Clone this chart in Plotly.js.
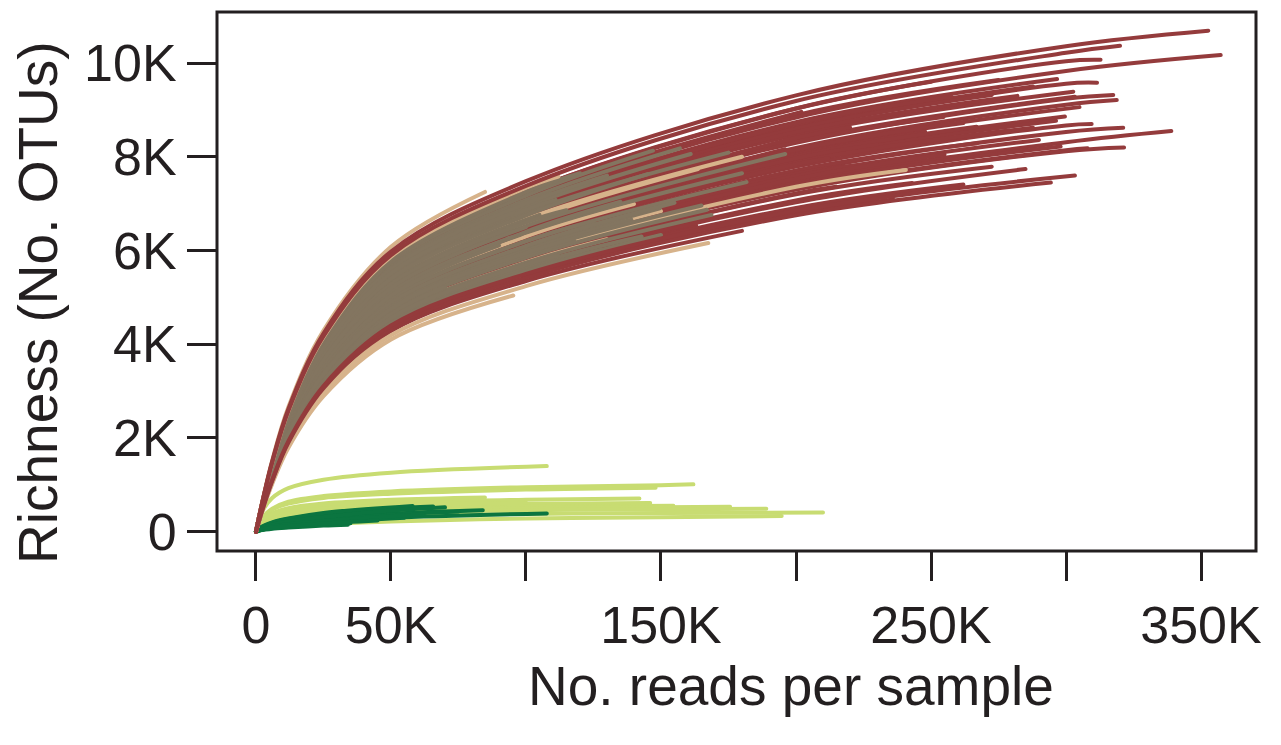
<!DOCTYPE html>
<html><head><meta charset="utf-8">
<script src="https://cdn.plot.ly/plotly-3.0.1.min.js"></script>
<style>html,body{margin:0;padding:0;background:#fff;}#chart{width:1281px;height:745px;}</style>
</head><body><div id="chart"></div>
<script>
const gridReadsK = [0, 1, 3, 6, 12, 25, 50, 100, 200, 300];
const greenGridReadsK = [0, 1, 3, 6, 12, 25, 50, 100, 150];

// tick labels
const xTickVals = [0, 50, 100, 150, 200, 250, 300, 350];
const xTickText = ['0', '50K', '', '150K', '', '250K', '', '350K'];
const yTickVals = [0, 2, 4, 6, 8, 10];
const yTickText = ['0', '2K', '4K', '6K', '8K', '10K'];

// dark red samples (richness in thousands of OTUs); the last ones are drawn above the grey-brown group
const redEndReadsK = [312.8, 311.5, 296.7, 287.8, 302.7, 303.3, 317.5, 318.8, 299.6, 296.3, 309.5, 321.2, 287.8, 279, 308, 321.5,
  243, 247.8, 254.6, 267, 257.6, 262, 275, 272.5, 266.9, 202, 225, 185, 196, 212, 232, 220, 163, 205, 190, 236, 262, 180,
  357.3, 272.5, 176, 339, 124, 142, 285, 298, 290, 305, 282, 250, 255, 230, 215,
  352.7, 320, 294.4, 303.3];
const redEndRichK = [10.07, 9.58, 9.66, 9.50, 9.39, 9.28, 9.32, 9.21, 8.86, 8.77, 8.70, 8.62, 8.62, 8.56, 8.18, 8.20,
  7.44, 8.54, 8.85, 8.29, 9.28, 8.72, 9.64, 9.32, 8.64, 8.96, 7.83, 8.29, 8.16, 7.97, 9.07, 8.63, 6.54, 7.46, 7.90, 7.09, 7.41, 6.42,
  10.17, 7.79, 7.14, 8.55, 7.35, 6.88, 7.74, 8.22, 8.36, 9.06, 9.30, 9.60, 8.05, 8.26, 7.36,
  10.69, 10.37, 7.45, 7.60];
const redRichK = [
  [0,.28,.78,1.45,2.54,4.10,5.80,7.25,9.03,10.04],
  [0,.26,.74,1.38,2.42,3.90,5.52,6.90,8.59,9.56],
  [0,.27,.75,1.40,2.46,3.97,5.62,7.02,8.74],
  [0,.26,.74,1.39,2.43,3.93,5.56,6.95,8.65],
  [0,.26,.73,1.36,2.38,3.84,5.44,6.80,8.47],
  [0,.25,.72,1.34,2.35,3.79,5.36,6.70,8.34],
  [0,.25,.71,1.33,2.33,3.77,5.34,6.67,8.30,9.24],
  [0,.25,.70,1.32,2.30,3.72,5.26,6.58,8.19,9.11],
  [0,.24,.69,1.28,2.25,3.63,5.14,6.42,7.99],
  [0,.24,.68,1.27,2.23,3.60,5.10,6.37,7.93],
  [0,.24,.67,1.25,2.19,3.54,5.01,6.26,7.79,8.67],
  [0,.23,.66,1.23,2.16,3.48,4.93,6.16,7.67,8.53],
  [0,.24,.68,1.26,2.21,3.57,5.05,6.31,7.86],
  [0,.24,.68,1.27,2.22,3.58,5.06,6.33,7.88],
  [0,.22,.63,1.18,2.06,3.32,4.70,5.88,7.32,8.14],
  [0,.22,.63,1.17,2.05,3.31,4.69,5.86,7.30,8.12],
  [0,.22,.61,1.14,1.99,3.21,4.54,5.68,7.07],
  [0,.25,.69,1.30,2.27,3.66,5.18,6.48,8.07],
  [0,.25,.71,1.34,2.34,3.77,5.34,6.68,8.32],
  [0,.24,.66,1.24,2.17,3.50,4.95,6.19,7.71],
  [0,.27,.75,1.40,2.44,3.94,5.58,6.98,8.69],
  [0,.25,.70,1.31,2.29,3.69,5.22,6.53,8.13],
  [0,.27,.76,1.43,2.50,4.03,5.71,7.14,8.89],
  [0,.26,.74,1.38,2.42,3.90,5.53,6.91,8.60],
  [0,.24,.69,1.29,2.25,3.63,5.14,6.43,8.01],
  [0,.27,.77,1.44,2.52,4.07,5.76,7.20],
  [0,.23,.66,1.23,2.15,3.47,4.91,6.14,7.64],
  [0,.26,.73,1.37,2.40,3.87,5.48,6.85],
  [0,.25,.71,1.32,2.31,3.73,5.28,6.60],
  [0,.24,.67,1.26,2.21,3.56,5.04,6.30,7.84],
  [0,.27,.75,1.40,2.45,3.96,5.60,7.00,8.72],
  [0,.26,.72,1.35,2.36,3.81,5.40,6.75,8.40],
  [0,.21,.60,1.12,1.96,3.16,4.48,5.60],
  [0,.23,.64,1.19,2.08,3.36,4.76,5.95],
  [0,.25,.69,1.29,2.26,3.64,5.16,6.45],
  [0,.21,.58,1.09,1.91,3.08,4.36,5.45,6.79],
  [0,.21,.59,1.11,1.94,3.14,4.44,5.55,6.91],
  [0,.20,.57,1.07,1.87,3.02,4.28,5.35],
  [0,.27,.76,1.42,2.49,4.01,5.68,7.10,8.84,9.83],
  [0,.22,.62,1.16,2.02,3.27,4.62,5.78,7.20],
  [0,.23,.64,1.20,2.10,3.39,4.80,6.00],
  [0,.23,.64,1.20,2.10,3.39,4.80,6.00,7.47,8.31],
  [0,.26,.74,1.38,2.42,3.90,5.52,6.90],
  [0,.24,.66,1.24,2.17,3.50,4.96,6.20],
  [0,.21,.60,1.13,1.98,3.19,4.52,5.65,7.03],
  [0,.23,.64,1.19,2.08,3.36,4.76,5.95,7.41],
  [0,.23,.65,1.22,2.14,3.45,4.88,6.10,7.59],
  [0,.25,.70,1.31,2.29,3.70,5.24,6.55,8.15],
  [0,.26,.73,1.37,2.40,3.87,5.48,6.85,8.53],
  [0,.28,.78,1.45,2.54,4.10,5.80,7.25,9.03],
  [0,.23,.65,1.21,2.12,3.42,4.84,6.05,7.53],
  [0,.24,.68,1.28,2.24,3.62,5.12,6.40,7.97],
  [0,.22,.62,1.16,2.03,3.28,4.64,5.80,7.22],
  [0,.28,.80,1.50,2.62,4.23,5.98,7.48,9.31,10.36],
  [0,.28,.79,1.48,2.58,4.17,5.90,7.38,9.19,10.22],
  [0,.21,.58,1.08,1.90,3.06,4.34,5.42,6.75],
  [0,.21,.59,1.10,1.93,3.11,4.40,5.50,6.85]
];
const redDrawnLast = 4;

// grey-brown samples
const greyEndReadsK = [196, 175, 161, 157, 147, 180, 181.7, 167, 168.7, 149, 109, 111, 105, 125, 118, 135, 128, 149.6, 139, 97.8,
  142.8, 80, 60, 90, 70, 115, 130, 112, 100, 155, 120, 150, 145, 105, 95, 165];
const greyEndRichK = [8.06, 8.09, 8.06, 8.18, 8.13, 7.65, 7.46, 6.87, 6.76, 6.30, 7.22, 7.08, 6.76, 6.62, 6.20, 7.04, 6.02, 6.90, 6.66, 5.46,
  6.30, 6.77, 5.81, 6.11, 5.22, 6.86, 7.60, 5.89, 6.50, 7.02, 7.65, 6.33, 7.63, 6.09, 6.80, 6.96];
const greyRichK = [
  [0,.25,.70,1.30,2.28,3.68,5.22,6.52],
  [0,.26,.73,1.36,2.38,3.85,5.45,6.81],
  [0,.26,.74,1.39,2.43,3.92,5.54,6.93],
  [0,.27,.76,1.42,2.48,4.00,5.66,7.08],
  [0,.27,.77,1.43,2.51,4.05,5.74,7.17],
  [0,.24,.68,1.28,2.23,3.60,5.10,6.38],
  [0,.24,.66,1.24,2.17,3.50,4.96,6.20],
  [0,.22,.63,1.17,2.05,3.31,4.68,5.85],
  [0,.22,.61,1.15,2.01,3.24,4.59,5.74],
  [0,.21,.59,1.11,1.94,3.13,4.43,5.54],
  [0,.27,.75,1.41,2.46,3.98,5.63,7.04],
  [0,.26,.74,1.37,2.40,3.88,5.50,6.87],
  [0,.25,.71,1.33,2.33,3.76,5.33],
  [0,.24,.66,1.24,2.17,3.50,4.96,6.20],
  [0,.22,.63,1.18,2.07,3.33,4.72,5.90],
  [0,.24,.68,1.28,2.24,3.62,5.12,6.40],
  [0,.21,.60,1.12,1.96,3.16,4.48,5.60],
  [0,.23,.65,1.21,2.12,3.42,4.84,6.05],
  [0,.23,.64,1.20,2.10,3.39,4.80,6.00],
  [0,.21,.59,1.10,1.93,3.11,4.40],
  [0,.22,.61,1.13,1.98,3.20,4.53,5.66],
  [0,.27,.77,1.44,2.52,4.07,5.76],
  [0,.26,.73,1.36,2.38,3.84,5.44],
  [0,.24,.67,1.26,2.21,3.56,5.04],
  [0,.22,.62,1.16,2.03,3.28,4.64],
  [0,.25,.71,1.32,2.31,3.73,5.28,6.60],
  [0,.27,.75,1.40,2.45,3.96,5.60,7.00],
  [0,.22,.61,1.14,2.00,3.22,4.56,5.70],
  [0,.25,.70,1.30,2.28,3.67,5.20],
  [0,.23,.65,1.22,2.14,3.45,4.88,6.10],
  [0,.28,.78,1.45,2.54,4.10,5.80,7.25],
  [0,.21,.59,1.11,1.94,3.14,4.44,5.55],
  [0,.26,.72,1.35,2.36,3.81,5.40,6.75],
  [0,.23,.64,1.20,2.10,3.39,4.80],
  [0,.26,.74,1.38,2.42,3.90,5.52],
  [0,.23,.64,1.19,2.08,3.36,4.76,5.95]
];

// tan samples; the last ones (edges of the band) are drawn above the grey-brown group
const tanEndReadsK = [180, 240.7, 107.7, 163.7, 130, 150, 120, 140, 84.8, 95.3, 167.5, 112];
const tanEndRichK = [8.00, 7.72, 6.74, 7.74, 6.24, 6.84, 5.96, 6.99, 7.25, 5.04, 6.16, 7.58];
const tanRichK = [
  [0,.25,.71,1.33,2.33,3.77,5.34,6.67],
  [0,.22,.63,1.18,2.07,3.34,4.73,5.91,7.36],
  [0,.25,.70,1.32,2.30,3.72,5.26],
  [0,.25,.71,1.33,2.32,3.75,5.30,6.63],
  [0,.22,.62,1.15,2.01,3.25,4.60,5.75],
  [0,.23,.64,1.20,2.10,3.39,4.80,6.00],
  [0,.21,.60,1.13,1.98,3.19,4.52,5.65],
  [0,.24,.67,1.26,2.21,3.56,5.04,6.30],
  [0,.29,.81,1.52,2.66,4.29,6.08],
  [0,.19,.55,1.02,1.79,2.89,4.10],
  [0,.20,.56,1.05,1.83,2.96,4.19,5.24],
  [0,.28,.79,1.47,2.57,4.15,5.87,7.34]
];
const tanDrawnLast = 4;

// light green samples (all drawn below the dark green group)
const lightEndReadsK = [107.7, 162, 148, 142, 146, 154.6, 175.6, 189, 84.8, 100, 60, 210, 194.7];
const lightEndRichK = [1.40, 1.01, 0.94, 0.71, 0.61, 0.555, 0.53, 0.49, 0.73, 0.62, 0.67, 0.41, 0.335];
const lightRichK = [
  [0,.24,.50,.72,.93,1.11,1.26],
  [0,.16,.34,.49,.64,.76,.86,.95,.99],
  [0,.15,.32,.47,.60,.72,.81,.90],
  [0,.12,.24,.35,.46,.54,.62,.68],
  [0,.10,.21,.31,.40,.47,.53,.59],
  [0,.09,.19,.28,.36,.42,.48,.53],
  [0,.085,.18,.26,.335,.40,.45,.50,.52],
  [0,.08,.17,.24,.31,.37,.42,.46,.48],
  [0,.13,.27,.39,.50,.60,.68],
  [0,.105,.22,.32,.415,.50,.56],
  [0,.12,.26,.37,.48,.58,.65],
  [0,.065,.14,.20,.25,.30,.34,.38,.40],
  [0,.02,.05,.08,.12,.16,.22,.28,.31]
];

// dark green samples
const darkEndReadsK = [65.6, 58, 84, 107.7, 40, 75, 55, 35, 70, 34, 62, 45];
const darkEndRichK = [0.54, 0.55, 0.46, 0.39, 0.39, 0.43, 0.30, 0.18, 0.52, 0.15, 0.37, 0.24];
const darkRichK = [
  [0,.055,.12,.19,.27,.38,.50],
  [0,.06,.13,.20,.28,.40],
  [0,.04,.085,.13,.185,.27,.385],
  [0,.03,.065,.10,.14,.21,.295],
  [0,.045,.10,.15,.21,.31],
  [0,.035,.08,.12,.17,.25,.36],
  [0,.03,.06,.095,.135,.195],
  [0,.02,.05,.075,.105,.155],
  [0,.045,.10,.15,.22,.315,.45],
  [0,.02,.04,.065,.09,.13],
  [0,.035,.075,.11,.16,.23,.33],
  [0,.025,.055,.085,.12,.175]
];

const RED = '#943b3c', GREY = '#837560', TAN = '#d7b38b', LIGHT = '#c8dc72', DARK = '#0b7540', INK = '#231f20';

function curves(grid, endX, endY, rich, color, from, to) {
  const out = [];
  for (let i = from; i < to; i++) {
    out.push({
      type: 'scatter', mode: 'lines',
      x: grid.slice(0, rich[i].length).concat([endX[i]]),
      y: rich[i].concat([endY[i]]),
      line: {color: color, width: 4, shape: 'spline', smoothing: 1},
      hoverinfo: 'skip', showlegend: false
    });
  }
  return out;
}

const nR = redRichK.length, nT = tanRichK.length;
const traces = [].concat(
  curves(greenGridReadsK, lightEndReadsK, lightEndRichK, lightRichK, LIGHT, 0, lightRichK.length),
  curves(greenGridReadsK, darkEndReadsK, darkEndRichK, darkRichK, DARK, 0, darkRichK.length),
  curves(gridReadsK, redEndReadsK, redEndRichK, redRichK, RED, 0, nR - redDrawnLast),
  curves(gridReadsK, tanEndReadsK, tanEndRichK, tanRichK, TAN, 0, nT - tanDrawnLast),
  curves(gridReadsK, greyEndReadsK, greyEndRichK, greyRichK, GREY, 0, greyRichK.length),
  curves(gridReadsK, tanEndReadsK, tanEndRichK, tanRichK, TAN, nT - tanDrawnLast, nT),
  curves(gridReadsK, redEndReadsK, redEndRichK, redRichK, RED, nR - redDrawnLast, nR)
);

const FONT = 'Liberation Sans, Arial, Helvetica, sans-serif';
const layout = {
  width: 1281, height: 745,
  margin: {l: 217, r: 25, t: 12, b: 194, pad: 0},
  paper_bgcolor: '#ffffff', plot_bgcolor: '#ffffff',
  showlegend: false,
  font: {family: FONT, color: INK},
  xaxis: {
    range: [-14.44, 370.37], showgrid: false, zeroline: false, showline: false,
    tickmode: 'array', tickvals: xTickVals, ticktext: xTickText,
    ticks: 'outside', ticklen: 29, tickwidth: 3, tickcolor: INK,
    tickfont: {family: FONT, size: 52, color: INK}
  },
  yaxis: {
    range: [-0.412, 11.09], showgrid: false, zeroline: false, showline: false,
    tickmode: 'array', tickvals: yTickVals, ticktext: yTickText,
    ticks: 'outside', ticklen: 29, tickwidth: 3, tickcolor: INK,
    tickfont: {family: FONT, size: 52, color: INK}
  },
  shapes: [{type: 'rect', xref: 'paper', yref: 'paper', x0: 0, x1: 1, y0: 0, y1: 1,
    line: {color: INK, width: 3}, layer: 'above'}],
  annotations: [
    {text: 'No. reads per sample', xref: 'paper', yref: 'paper', x: 0.5525, y: -0.2505,
      xanchor: 'center', yanchor: 'middle', showarrow: false, font: {family: FONT, size: 55, color: INK}},
    {text: 'Richness (No. OTUs)', xref: 'paper', yref: 'paper', x: -0.1723, y: 0.462, textangle: -90,
      xanchor: 'center', yanchor: 'middle', showarrow: false, font: {family: FONT, size: 55, color: INK}}
  ]
};

Plotly.newPlot('chart', traces, layout, {staticPlot: true, displayModeBar: false}).then(function () {
  document.querySelectorAll('.scatterlayer path.js-line').forEach(function (p) {
    p.style.strokeLinecap = 'round';
    p.style.strokeLinejoin = 'round';
  });
});
</script>
</body></html>
